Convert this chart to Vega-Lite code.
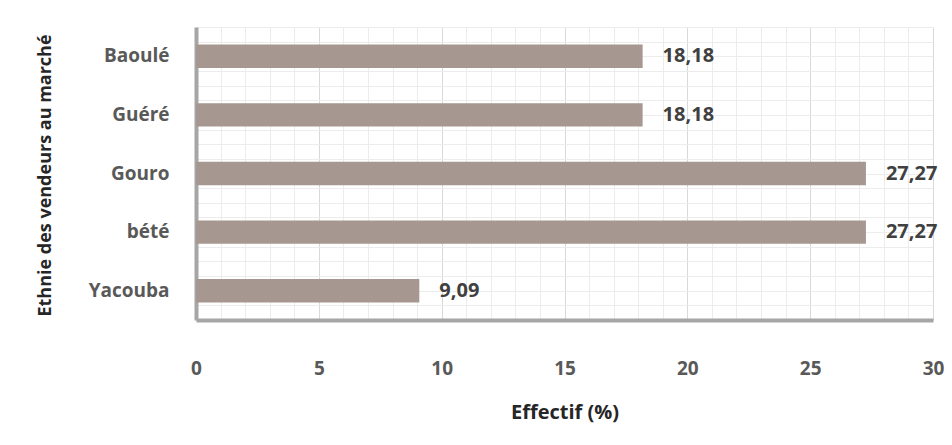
{
  "$schema": "https://vega.github.io/schema/vega-lite/v6.json",
  "autosize": "none",
  "width": 737,
  "height": 293,
  "padding": {"left": 196, "top": 27, "right": 19, "bottom": 125},
  "background": "white",
  "config": {
    "view": {"stroke": null},
    "font": "Open Sans",
    "axisX": {"labelOverlap": false, "labelFlush": false},
    "locale": {"number": {"decimal": ",", "thousands": " ", "grouping": [3], "currency": ["", " €"]}}
  },
  "data": {
    "values": [
      {"ethnie": "Baoulé", "effectif": 18.18},
      {"ethnie": "Guéré", "effectif": 18.18},
      {"ethnie": "Gouro", "effectif": 27.27},
      {"ethnie": "bété", "effectif": 27.27},
      {"ethnie": "Yacouba", "effectif": 9.09}
    ]
  },
  "layer": [
    {
      "mark": {"type": "point", "opacity": 0},
      "encoding": {
        "y": {
          "datum": 0,
          "type": "quantitative",
          "scale": {"domain": [0, 20], "nice": false},
          "axis": {
            "orient": "right",
            "values": [0,1,2,3,4,5,6,7,8,9,10,11,12,13,14,15,16,17,18,19,20],
            "grid": true,
            "gridColor": "#ececec",
            "gridWidth": 1,
            "labels": false,
            "ticks": false,
            "domain": false,
            "title": null
          }
        }
      }
    },
    {
      "encoding": {
        "y": {
          "field": "ethnie",
          "type": "nominal",
          "sort": null,
          "scale": {"paddingInner": 0.6, "paddingOuter": 0.3},
          "axis": {
            "orient": "left",
            "title": "Ethnie des vendeurs au marché",
            "titleFont": "Open Sans",
            "titleFontSize": 18,
            "titleFontWeight": "bold",
            "titleColor": "#262626",
            "titleX": -151,
            "titleY": 148,
            "titleAngle": -90,
            "titleAlign": "center",
            "titleBaseline": "middle",
            "labelFont": "Open Sans",
            "labelFontSize": 19,
            "labelFontWeight": "bold",
            "labelColor": "#595959",
            "labelPadding": 27,
            "ticks": false,
            "domain": true,
            "domainColor": "#a6a6a6",
            "domainWidth": 4,
            "grid": false
          }
        },
        "x": {
          "field": "effectif",
          "type": "quantitative",
          "scale": {"domain": [0, 30], "nice": false},
          "axis": {
            "title": "Effectif (%)",
            "titleFont": "Open Sans",
            "titleFontSize": 20,
            "titleFontWeight": "bold",
            "titleColor": "#262626",
            "titlePadding": 24,
            "values": [0,1,2,3,4,5,6,7,8,9,10,11,12,13,14,15,16,17,18,19,20,21,22,23,24,25,26,27,28,29,30],
            "labelExpr": "datum.value % 5 === 0 ? datum.label : ''",
            "labelOverlap": false,
            "labelFlush": false,
            "format": "d",
            "labelFont": "Open Sans",
            "labelFontSize": 19,
            "labelFontWeight": "bold",
            "labelColor": "#595959",
            "labelPadding": 39,
            "ticks": false,
            "domain": true,
            "domainColor": "#a6a6a6",
            "domainWidth": 4,
            "grid": true,
            "gridColor": {"condition": {"test": "datum.value % 5 === 0", "value": "#d9d9d9"}, "value": "#ececec"},
            "gridWidth": 1
          }
        }
      },
      "layer": [
        {"mark": {"type": "bar", "color": "#a69890"}},
        {
          "mark": {"type": "text", "align": "left", "baseline": "middle", "dx": 20, "font": "Open Sans", "fontSize": 20, "fontWeight": "bold", "color": "#404040"},
          "encoding": {
            "text": {"field": "effectif", "type": "quantitative", "format": ".2f"}
          }
        }
      ]
    }
  ],
  "resolve": {"scale": {"y": "independent"}}
}
